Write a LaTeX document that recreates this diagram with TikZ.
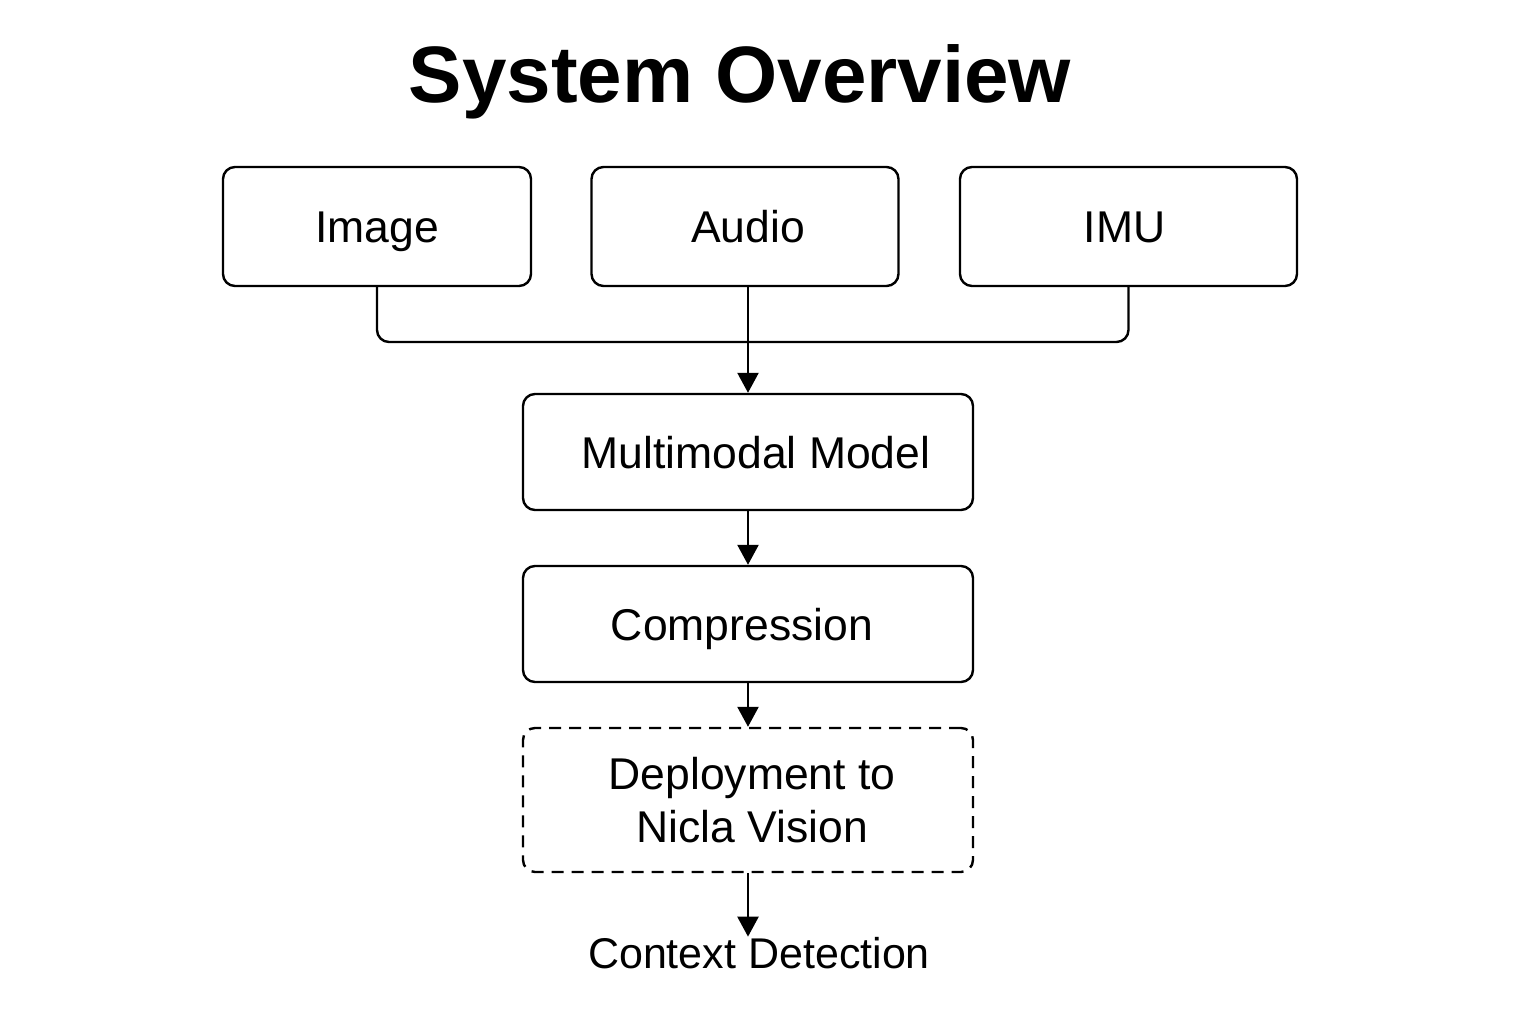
\documentclass[tikz,border=0pt]{standalone}
\usepackage{fontspec}
\setmainfont{Liberation Sans}
\usetikzlibrary{arrows.meta}
\tikzset{
  box/.style={draw, line width=2.4pt, rounded corners=12pt, inner sep=0pt,
    text height=32pt, text depth=0pt, font=\fontsize{44.5}{53}\selectfont},
  dbox/.style={draw, line width=2.4pt, rounded corners=12pt, inner sep=0pt,
    dash pattern=on 12pt off 8pt, align=center, font=\fontsize{44.5}{53}\selectfont},
  conn/.style={line width=2.4pt},
  arr/.style={line width=2.4pt, -{Triangle[length=20pt,width=21pt]}},
  lbl/.style={font=\fontsize{43}{53}\selectfont, inner sep=0pt},
}
\begin{document}
\begin{tikzpicture}[x=1pt,y=-1pt]
\useasboundingbox (0,0) rectangle (1536,1024);
\node[font=\bfseries\fontsize{80}{96}\selectfont, anchor=base, inner sep=0pt] (title) at (740,103) {System Overview};
\node[box, minimum width=308pt, minimum height=119pt] (img) at (377,226.5) {Image};
\node[box, minimum width=307pt, minimum height=119pt] (aud) at (745,226.5) {\kern6pt Audio};
\node[box, minimum width=337pt, minimum height=119pt] (imu) at (1128.5,226.5) {IMU\kern8pt};
\node[box, minimum width=450pt, minimum height=116pt] (mm) at (748,452) {\kern16pt Multimodal Model};
\node[box, minimum width=450pt, minimum height=116pt] (comp) at (748,624) {Compression\kern12pt};
\node[dbox, minimum width=450pt, minimum height=144pt] (dep) at (748,800) {\hspace{8pt}Deployment to\\\hspace{8pt}Nicla Vision};
\node[lbl, anchor=base] (ctx) at (759,968) {Context Detection};
\coordinate (bus) at (748,342);
\draw[conn, rounded corners=12pt] (img.south) |- (bus) -| (imu.south);
\draw[arr] (mm.north |- aud.south) -- (mm.north);
\draw[arr] (mm.south) -- (comp.north);
\draw[arr] (comp.south) -- (dep.north);
\draw[arr] (dep.south) -- (dep.south |- ctx.north);
\end{tikzpicture}
\end{document}
